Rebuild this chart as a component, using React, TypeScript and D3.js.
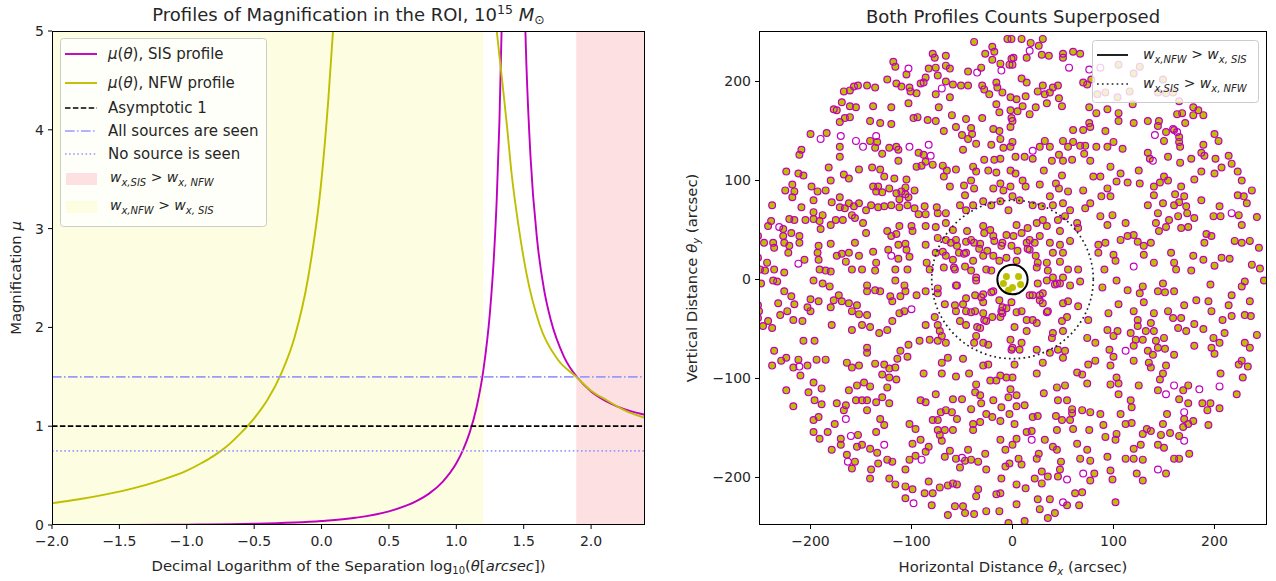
import React from 'react';
import * as d3 from 'd3';

type P = [number, number];

// ---------- Left panel data ----------
const xTicksL = [-2.0, -1.5, -1.0, -0.5, 0.0, 0.5, 1.0, 1.5, 2.0];
const yTicksL = [0, 1, 2, 3, 4, 5];
const sisLeft: P[] = [[-2, 0.0004], [-1.5, 0.0012], [-1, 0.004], [-0.5, 0.012], [0, 0.04], [0.25, 0.073], [0.5, 0.138], [0.7, 0.239], [0.8, 0.32], [0.9, 0.44], [1.0, 0.625], [1.05, 0.76], [1.1, 0.94], [1.15, 1.19], [1.2, 1.56], [1.25, 2.16], [1.28, 2.74], [1.3, 3.3], [1.32, 4.09], [1.335, 4.95], [1.345, 5.7]];
const sisRight: P[] = [[1.505, 5.34], [1.52, 4.66], [1.55, 3.74], [1.6, 2.88], [1.65, 2.39], [1.7, 2.08], [1.8, 1.7], [1.9, 1.49], [2.0, 1.35], [2.1, 1.26], [2.2, 1.196], [2.3, 1.15], [2.4, 1.116]];
const nfwLeft: P[] = [[-2, 0.22], [-1.8, 0.26], [-1.6, 0.31], [-1.4, 0.37], [-1.2, 0.45], [-1.0, 0.55], [-0.9, 0.62], [-0.8, 0.7], [-0.7, 0.8], [-0.6, 0.93], [-0.5, 1.08], [-0.4, 1.27], [-0.3, 1.53], [-0.2, 1.9], [-0.1, 2.5], [0.0, 3.5], [0.05, 4.3], [0.1, 5.3]];
const nfwRight: P[] = [[1.285, 5.2], [1.3, 5.0], [1.34, 4.5], [1.375, 4.05], [1.41, 3.56], [1.46, 3.04], [1.52, 2.55], [1.62, 2.02], [1.75, 1.68], [1.89, 1.5], [2.0, 1.36], [2.12, 1.26], [2.25, 1.16], [2.4, 1.085]];
const asymptoteLevel = 1;
const allSeenLevel = 1.5;
const noneSeenLevel = 0.75;
const nfwWinsBand: P = [-2, 1.2];
const sisWinsBand: P = [1.89, 2.4];

// ---------- Right panel data ----------
const scatterTicks = [-200, -100, 0, 100, 200];
const nfwCriticalRadius = 15;
const sisCriticalRadius = 80;
const bothPts: P[] = [
[-38,240],[-5,243],[-20,235],[-27,228],[-18,230],[-20,222],[-1,223],[-3,217],[-79,228],[-77,224],[-66,226],[-118,220],[-116,215],[-83,213],[-76,214],[-66,216],[-62,213],[-105,207],[-74,206],[-44,210],[-31,214],[-12,218],[-124,202],[-86,204],[-88,199],[-66,200],[-59,197],[-51,196],[-44,196],[-115,198],[-110,195],[-102,194],[-101,190],[-95,188],[-91,198],[-167,190],[-161,191],[-157,195],[-153,196],[-144,196],[-136,194],[-16,199],[-15,194],[-30,196],[-28,192],[-23,187],[-10,189],[-2,184],[-76,187],[-62,184],[-177,172],[-174,171],[-169,179],[-161,175],[-155,174],[-138,175],[-120,174],[-103,178],[-161,164],[-166,163],[-171,159],[-141,160],[-131,158],[-120,157],[-98,163],[-94,164],[-84,161],[-76,160],[-73,174],[-60,166],[-46,162],[-30,163],[-16,177],[-13,169],[-2,171],[-1,163],[-200,147],[-184,148],[-141,140],[-134,139],[-136,133],[-122,133],[-115,134],[-113,131],[-209,131],[-211,126],[-171,134],[-171,124],[-129,127],[-113,120],[-93,128],[-88,126],[-86,119],[-90,115],[-95,114],[-79,116],[-69,115],[-68,150],[-56,154],[-50,146],[-41,153],[-40,147],[-44,142],[-36,137],[-49,131],[-19,152],[-13,150],[-2,154],[-12,142],[-9,133],[-2,134],[-21,136],[-224,109],[-212,107],[-207,105],[-182,113],[-167,106],[-162,102],[-152,111],[-139,113],[-131,111],[-127,104],[-117,102],[-105,101],[-68,104],[-65,110],[-56,111],[-39,114],[-36,109],[-28,121],[-24,110],[-18,121],[-12,122],[-16,108],[-2,110],[-225,90],[-218,96],[-216,89],[-218,83],[-199,94],[-193,89],[-185,90],[-180,100],[-171,83],[-138,94],[-133,94],[-135,89],[-129,88],[-122,92],[-115,87],[-110,89],[-106,93],[-106,86],[-103,83],[-97,90],[-112,81],[-104,75],[-62,94],[-48,95],[-47,85],[-41,100],[-38,92],[-19,92],[-12,97],[-9,90],[-2,94],[-238,75],[-209,73],[-197,80],[-197,68],[-188,65],[-179,78],[-171,73],[-166,72],[-162,77],[-157,74],[-152,77],[-145,70],[-140,75],[-133,73],[-127,74],[-120,75],[-112,73],[-97,72],[-93,66],[-87,74],[-86,66],[-75,73],[-74,67],[-66,67],[-52,75],[-46,70],[-39,75],[-29,79],[-21,75],[-12,79],[-4,70],[-242,54],[-239,59],[-227,51],[-227,44],[-221,61],[-216,60],[-219,47],[-211,44],[-205,60],[-197,61],[-191,59],[-190,51],[-180,55],[-175,60],[-168,60],[-159,65],[-156,62],[-148,57],[-145,47],[-124,49],[-120,44],[-115,46],[-112,54],[-100,54],[-99,49],[-106,36],[-113,35],[-86,54],[-76,53],[-66,57],[-59,50],[-74,42],[-66,40],[-61,37],[-56,40],[-55,34],[-46,38],[-41,40],[-32,36],[-29,54],[-22,50],[-19,44],[-6,45],[-10,37],[-252,44],[-246,37],[-237,37],[-236,32],[-226,37],[-221,34],[-222,27],[-211,37],[-192,34],[-193,27],[-180,36],[-174,24],[-169,26],[-162,27],[-156,37],[-152,24],[-138,28],[-135,17],[-123,30],[-113,21],[-105,30],[-102,23],[-86,35],[-76,27],[-69,28],[-66,24],[-59,20],[-46,27],[-39,19],[-29,24],[-19,24],[-6,22],[-252,22],[-250,10],[-243,17],[-245,9],[-236,10],[-226,7],[-206,20],[-192,20],[-191,10],[-185,9],[-180,8],[-165,18],[-159,10],[-149,10],[-136,9],[-116,10],[-104,10],[-85,17],[-82,10],[-68,12],[-57,10],[-47,13],[-26,10],
[-1,243],[9,243],[18,239],[26,236],[30,243],[29,227],[36,226],[14,224],[1,224],[0,217],[50,228],[50,224],[60,230],[67,228],[105,217],[126,215],[120,208],[149,202],[144,189],[152,188],[159,189],[84,187],[92,189],[104,184],[116,190],[165,180],[74,197],[70,199],[78,202],[9,203],[14,199],[30,196],[40,194],[45,196],[25,190],[32,187],[37,189],[13,185],[4,182],[46,183],[49,175],[34,178],[23,174],[10,175],[17,167],[5,170],[0,160],[76,174],[83,168],[94,172],[105,168],[119,177],[76,158],[70,151],[60,151],[77,154],[92,150],[105,160],[120,158],[134,160],[145,160],[144,155],[152,149],[160,151],[165,144],[165,139],[166,134],[150,140],[163,167],[168,168],[179,166],[189,166],[171,158],[179,174],[184,171],[200,147],[204,140],[189,136],[187,128],[190,125],[201,122],[214,125],[217,117],[207,113],[223,109],[200,107],[227,100],[237,90],[229,84],[223,85],[232,77],[224,65],[242,63],[227,55],[206,64],[199,64],[205,74],[192,46],[197,44],[190,37],[220,39],[227,37],[244,32],[235,39],[207,22],[215,21],[245,11],[237,15],[200,14],[0,139],[3,124],[12,124],[20,122],[27,134],[32,140],[37,134],[39,120],[46,126],[50,120],[50,140],[55,134],[60,139],[67,135],[72,135],[83,134],[94,134],[100,139],[109,132],[71,127],[77,120],[59,121],[97,114],[107,107],[114,98],[125,110],[134,128],[136,122],[154,124],[166,118],[177,122],[187,109],[180,101],[167,94],[170,84],[161,86],[154,100],[150,104],[146,98],[140,94],[140,85],[149,77],[160,75],[165,78],[172,74],[173,67],[164,64],[155,60],[144,67],[142,57],[152,53],[145,49],[167,52],[174,53],[180,62],[187,80],[3,107],[10,100],[13,94],[27,96],[31,110],[43,97],[46,92],[49,105],[55,89],[70,90],[80,104],[87,104],[88,84],[94,92],[97,84],[103,99],[126,97],[134,75],[0,84],[7,80],[20,75],[29,74],[37,84],[40,75],[50,77],[57,70],[52,64],[45,60],[30,60],[24,57],[34,54],[47,49],[64,57],[65,52],[72,72],[77,77],[87,64],[94,55],[99,65],[112,57],[114,44],[107,40],[120,45],[124,38],[130,34],[137,37],[130,25],[140,17],[157,27],[160,17],[162,10],[177,9],[179,24],[189,20],[15,52],[9,47],[1,44],[4,55],[17,40],[22,37],[17,30],[27,44],[37,37],[47,35],[50,27],[57,39],[40,27],[25,17],[34,17],[47,18],[55,10],[65,10],[85,35],[92,37],[85,27],[100,25],[102,19],[91,10],
[-249,-4],[-237,-1],[-233,-2],[-226,-12],[-219,-17],[-216,-25],[-232,-24],[-252,-26],[-251,-32],[-252,-39],[-242,-42],[-247,-47],[-238,-49],[-230,-36],[-223,-32],[-217,-41],[-208,-42],[-200,-32],[-203,-28],[-200,-20],[-192,-22],[-197,-1],[-188,-4],[-181,-7],[-172,-16],[-177,-21],[-169,-22],[-162,-24],[-154,-26],[-159,-32],[-152,-35],[-144,-36],[-179,-46],[-159,-51],[-149,-46],[-141,-48],[-180,-28],[-144,-6],[-144,-12],[-136,-11],[-131,-12],[-132,-54],[-124,-51],[-119,-42],[-112,-34],[-107,-32],[-121,-17],[-119,-22],[-111,-17],[-106,-12],[-107,-6],[-116,-1],[-95,-16],[-86,-12],[-74,-9],[-74,-14],[-67,-25],[-77,-38],[-86,-46],[-74,-46],[-72,-52],[-70,-57],[-66,-64],[-74,-62],[-82,-61],[-92,-62],[-103,-66],[-111,-72],[-114,-80],[-104,-78],[-56,-6],[-57,-26],[-56,-32],[-49,-25],[-46,-32],[-52,-42],[-46,-46],[-37,-16],[-29,-15],[-29,-23],[-36,-1],[-19,-12],[-11,-32],[-6,-29],[-12,-38],[-1,-23],[-37,-32],[-29,-34],[-26,-42],[-32,-49],[-36,-57],[-38,-64],[-29,-64],[-24,-66],[-2,-61],[-1,-71],[-236,-72],[-238,-87],[-229,-82],[-224,-79],[-212,-81],[-217,-89],[-210,-97],[-203,-87],[-207,-62],[-196,-62],[-194,-81],[-185,-81],[-224,-112],[-217,-128],[-197,-104],[-189,-110],[-202,-114],[-196,-122],[-189,-126],[-192,-139],[-197,-142],[-176,-146],[-183,-154],[-197,-154],[-191,-161],[-179,-172],[-170,-161],[-170,-167],[-174,-125],[-165,-127],[-167,-132],[-162,-112],[-164,-84],[-159,-89],[-152,-87],[-144,-69],[-144,-74],[-136,-85],[-127,-86],[-122,-90],[-116,-89],[-115,-101],[-122,-99],[-129,-96],[-124,-109],[-129,-119],[-122,-125],[-135,-124],[-154,-107],[-147,-104],[-141,-108],[-155,-122],[-149,-122],[-144,-122],[-144,-132],[-131,-141],[-127,-147],[-135,-154],[-153,-157],[-154,-169],[-149,-167],[-141,-171],[-134,-175],[-164,-177],[-159,-191],[-156,-184],[-140,-192],[-133,-186],[-124,-182],[-119,-184],[-141,-201],[-122,-201],[-116,-207],[-106,-192],[-102,-182],[-96,-178],[-99,-166],[-91,-162],[-83,-169],[-86,-174],[-106,-209],[-99,-212],[-106,-221],[-87,-216],[-83,-204],[-79,-216],[-80,-228],[-72,-210],[-64,-208],[-59,-206],[-55,-207],[-64,-238],[-57,-229],[-49,-229],[-47,-236],[-38,-237],[-26,-234],[-13,-234],[-4,-246],[-34,-212],[-36,-219],[-16,-217],[-12,-216],[-88,-95],[-76,-116],[-91,-122],[-86,-124],[-59,-121],[-50,-121],[-56,-98],[-70,-95],[-70,-84],[-64,-79],[-49,-80],[-43,-95],[-36,-106],[-37,-114],[-32,-117],[-31,-125],[-29,-87],[-24,-86],[-22,-102],[-16,-102],[-12,-97],[-6,-99],[-2,-111],[-4,-119],[-19,-122],[-11,-129],[-26,-136],[-20,-139],[-12,-143],[-32,-144],[-39,-146],[-39,-152],[-41,-131],[-71,-134],[-66,-132],[-60,-134],[-55,-141],[-79,-142],[-74,-142],[-102,-146],[-96,-151],[-74,-152],[-67,-152],[-59,-152],[-72,-157],[-70,-163],[-62,-173],[-67,-179],[-56,-181],[-44,-172],[-47,-183],[-41,-182],[-34,-184],[-27,-176],[-52,-190],[-26,-192],[-12,-162],[-7,-172],[-7,-189],[-11,-201],
[25,-4],[42,-5],[47,-4],[57,-6],[67,-2],[89,-8],[103,-1],[114,-11],[126,-14],[129,-7],[144,-12],[151,-13],[160,-12],[149,-4],[196,-5],[227,-7],[230,-2],[249,-1],[235,-22],[217,-16],[214,-26],[197,-32],[182,-21],[194,-22],[230,-36],[236,-37],[208,-41],[217,-37],[170,-26],[167,-39],[172,-52],[164,-49],[159,-39],[180,-45],[189,-50],[199,-59],[205,-64],[210,-54],[242,-56],[230,-64],[235,-69],[180,-67],[197,-69],[200,-75],[227,-82],[224,-86],[233,-88],[206,-95],[228,-99],[222,-116],[174,-107],[169,-112],[165,-121],[174,-125],[188,-125],[196,-125],[193,-132],[205,-130],[170,-141],[174,-146],[179,-143],[169,-149],[165,-158],[194,-147],[175,-176],[165,-181],[160,-181],[152,-196],[144,-112],[146,-101],[149,-95],[152,-87],[139,-76],[135,-84],[137,-89],[134,-72],[144,-69],[151,-70],[160,-76],[142,-62],[150,-59],[140,-52],[137,-44],[154,-32],[140,-34],[132,-52],[124,-47],[117,-54],[122,-61],[120,-67],[120,-82],[129,-61],[124,-41],[120,-32],[130,-23],[105,-25],[95,-34],[94,-51],[100,-57],[104,-52],[96,-71],[100,-78],[97,-87],[103,-99],[105,-105],[97,-106],[105,-116],[117,-122],[118,-129],[125,-107],[107,-136],[118,-145],[112,-146],[103,-156],[102,-162],[92,-159],[90,-147],[87,-136],[77,-134],[69,-132],[60,-151],[59,-135],[57,-142],[49,-142],[43,-138],[44,-152],[32,-162],[40,-169],[44,-172],[48,-184],[47,-192],[45,-199],[77,-203],[81,-196],[67,-181],[64,-166],[74,-172],[77,-183],[94,-179],[97,-193],[99,-202],[112,-181],[120,-181],[129,-182],[120,-171],[127,-167],[123,-196],[129,-203],[133,-151],[137,-153],[129,-156],[144,-167],[150,-170],[147,-157],[156,-155],[149,-146],[153,-136],[62,-216],[69,-215],[66,-228],[54,-228],[37,-222],[25,-222],[27,-232],[35,-241],[42,-236],[12,-244],[4,-227],[4,-207],[13,-211],[22,-201],[29,-206],[29,-194],[35,-199],[102,-225],[-3,-186],[9,-187],[6,-181],[24,-181],[26,-176],[0,-167],[4,-161],[14,-154],[19,-153],[20,-139],[25,-138],[2,-146],[-3,-136],[4,-128],[12,-127],[4,-117],[0,-99],[2,-86],[24,-95],[31,-115],[44,-109],[52,-107],[45,-122],[54,-122],[59,-131],[76,-152],[64,-94],[69,-96],[74,-105],[75,-86],[82,-82],[74,-59],[75,-41],[82,-64],[65,-27],[49,-42],[54,-38],[50,-52],[40,-54],[39,-59],[45,-71],[52,-72],[50,-79],[37,-74],[30,-84],[24,-71],[14,-52],[9,-64],[7,-71],[0,-69],[14,-41],[9,-32],[20,-41],[27,-21],[30,-14],[20,-16],[35,-32],[50,-24],[55,-22],
[-21,9],[-13,19],[-36,2],[-55,-6],[-46,-19],[-31,-18],[-21,-13],[-13,-21],[-10,-28],[4,-33],[17,-16],[27,-16],[30,-24],[34,-33],[24,-44],[2,-48],[-10,-34],[-20,-38],[-28,-41],[-41,-33],[-35,-48],[4,19],[24,12],[35,9],[40,2],[34,-1],[44,-4],[50,2],[23,24],[15,31],[14,37],[5,29],[-1,34],[-11,34],[-18,39],[-25,29],[-33,31],[-38,37],[-28,47],[-45,49],[-53,27],[-48,26],[-58,12],[-41,9]
];
const sisOnlyPts: P[] = [[-103,213],[-35,209],[-11,211],[-70,193],[-190,142],[-170,145],[-155,140],[-148,134],[-135,145],[-102,134],[-83,136],[-81,125],[-231,53],[-120,24],[-212,16],[17,231],[56,214],[76,212],[87,214],[159,152],[163,149],[141,146],[20,130],[139,120],[217,67],[120,13],[-100,-30],[-211,-88],[-165,-141],[-160,-158],[-127,-167],[-163,-184],[-90,-182],[-98,-226],[-50,-180],[205,-108],[185,-111],[170,-134],[170,-163],[144,-192],[160,-107],[152,-116],[112,-72],[54,-202],[70,-196],[50,-225],[19,-162]];
const nfwOnlyPts: P[] = [[-6,3],[6,3],[8,-5],[0,-8],[-4,-11],[-9,-4]];

const L = { x0: 52, x1: 645, y0: 31, y1: 525 };
const R = { x0: 759, x1: 1267, y0: 31, y1: 525 };
const FONT = 'DejaVu Sans';
const MAG = '#bf00bf';
const OLI = '#bfbf00';
const LBLUE = '#9999ff';
const TXT = '#262626';
const TICK = 14;
const LAB = 14.8;
const LEG = 15;
const TITLE = 18;

function WRel({ x, y, a, b }: { x: number; y: number; a: string; b: string }) {
  return (
    <text x={x} y={y} fontFamily={FONT} fontSize={14} fill={TXT}>
      <tspan fontStyle="italic">w</tspan>
      <tspan dy={3.5} fontSize={10} fontStyle="italic">{'x,' + a}</tspan>
      <tspan dy={-3.5}> {'>'} </tspan>
      <tspan fontStyle="italic">w</tspan>
      <tspan dy={3.5} fontSize={10} fontStyle="italic">{'x, ' + b}</tspan>
    </text>
  );
}

export default function App() {
  const xL = d3.scaleLinear().domain([-2, 2.4]).range([L.x0, L.x1]);
  const yL = d3.scaleLinear().domain([0, 5]).range([L.y1, L.y0]);
  const xR = d3.scaleLinear().domain([-251, 252]).range([R.x0, R.x1]);
  const yR = d3.scaleLinear().domain([-248, 251]).range([R.y1, R.y0]);
  const lineL = d3.line<P>().x(d => xL(d[0])).y(d => yL(d[1])).curve(d3.curveMonotoneX);
  const fmt1 = d3.format('.1f');
  const fmt0 = d3.format('d');

  const hline = (v: number, stroke: string, dash: string, w = 1.5) => (
    <line x1={L.x0} x2={L.x1} y1={yL(v)} y2={yL(v)} stroke={stroke} strokeWidth={w} strokeDasharray={dash} />
  );

  const legL = [54, 83, 108, 131, 154, 179, 207];

  return (
    <svg width={1276} height={581} style={{ position: 'absolute', left: 0, top: 0, background: '#fff' }} fontFamily={FONT}>
      <defs>
        <clipPath id="clipL"><rect x={L.x0} y={L.y0} width={L.x1 - L.x0} height={L.y1 - L.y0} /></clipPath>
        <clipPath id="clipR"><rect x={R.x0} y={R.y0} width={R.x1 - R.x0} height={R.y1 - R.y0} /></clipPath>
      </defs>
      <rect x={0} y={0} width={1276} height={581} fill="#fff" />

      {/* ---------------- LEFT PANEL ---------------- */}
      <g clipPath="url(#clipL)">
        <rect x={xL(nfwWinsBand[0])} y={L.y0} width={xL(nfwWinsBand[1]) - xL(nfwWinsBand[0])} height={L.y1 - L.y0} fill="#fdfde1" />
        <rect x={xL(sisWinsBand[0])} y={L.y0} width={xL(sisWinsBand[1]) - xL(sisWinsBand[0])} height={L.y1 - L.y0} fill="#fde1e2" />
        <path d={lineL(sisLeft) || ''} fill="none" stroke={MAG} strokeWidth={1.9} />
        <path d={lineL(sisRight) || ''} fill="none" stroke={MAG} strokeWidth={1.9} />
        <path d={lineL(nfwLeft) || ''} fill="none" stroke={OLI} strokeWidth={1.9} />
        <path d={lineL(nfwRight) || ''} fill="none" stroke={OLI} strokeWidth={1.9} />
        {hline(asymptoteLevel, '#000', '5.5,2.4', 1.7)}
        {hline(allSeenLevel, LBLUE, '9.6,2.4,1.6,2.4', 1.7)}
        {hline(noneSeenLevel, LBLUE, '1.6,2.5', 1.7)}
      </g>
      <rect x={L.x0 + 0.5} y={L.y0 + 0.5} width={L.x1 - L.x0 - 1} height={L.y1 - L.y0 - 1} fill="none" stroke="#000" strokeWidth={1} />
      {xTicksL.map(t => (
        <g key={'xl' + t}>
          <line x1={xL(t)} x2={xL(t)} y1={L.y1} y2={L.y1 + 4} stroke="#000" />
          <text x={xL(t)} y={L.y1 + 21} textAnchor="middle" fontSize={TICK} fill={TXT}>{fmt1(t)}</text>
        </g>
      ))}
      {yTicksL.map(t => (
        <g key={'yl' + t}>
          <line x1={L.x0 - 4} x2={L.x0} y1={yL(t)} y2={yL(t)} stroke="#000" />
          <text x={L.x0 - 8} y={yL(t) + 5} textAnchor="end" fontSize={TICK} fill={TXT}>{fmt0(t)}</text>
        </g>
      ))}
      <text x={(L.x0 + L.x1) / 2} y={571} textAnchor="middle" fontSize={LAB} fill={TXT}>
        Decimal Logarithm of the Separation log<tspan dy={3} fontSize={10}>10</tspan><tspan dy={-3}>(</tspan><tspan fontStyle="italic">θ</tspan>[<tspan fontStyle="italic">arcsec</tspan>])
      </text>
      <text transform={`translate(21, ${(L.y0 + L.y1) / 2}) rotate(-90)`} textAnchor="middle" fontSize={LAB} fill={TXT}>
        Magnification <tspan fontStyle="italic">μ</tspan>
      </text>
      <text x={(L.x0 + L.x1) / 2} y={21} textAnchor="middle" fontSize={TITLE} fill={TXT}>
        Profiles of Magnification in the ROI, 10<tspan dy={-7} fontSize={12.5}>15</tspan><tspan dy={7}> </tspan><tspan fontStyle="italic">M</tspan><tspan dy={3} fontSize={12.5}>⊙</tspan>
      </text>

      {/* left legend */}
      <rect x={60.5} y={38.5} width={206} height={188} rx={3} fill="#fff" fillOpacity={0.8} stroke="#ccc" />
      <line x1={65} x2={97} y1={legL[0]} y2={legL[0]} stroke={MAG} strokeWidth={1.9} />
      <line x1={65} x2={97} y1={legL[1]} y2={legL[1]} stroke={OLI} strokeWidth={1.9} />
      <line x1={65} x2={97} y1={legL[2]} y2={legL[2]} stroke="#000" strokeWidth={1.7} strokeDasharray="5.5,2.4" />
      <line x1={65} x2={97} y1={legL[3]} y2={legL[3]} stroke={LBLUE} strokeWidth={1.7} strokeDasharray="9.6,2.4,1.6,2.4" />
      <line x1={65} x2={97} y1={legL[4]} y2={legL[4]} stroke={LBLUE} strokeWidth={1.7} strokeDasharray="1.6,2.5" />
      <rect x={66} y={legL[5] - 6} width={31} height={12} fill="#fde1e2" />
      <rect x={66} y={legL[6] - 6} width={31} height={12} fill="#fdfde1" />
      <text x={108} y={legL[0] + 5} fontSize={LEG} fill={TXT}><tspan fontStyle="italic">μ</tspan>(<tspan fontStyle="italic">θ</tspan>), SIS profile</text>
      <text x={108} y={legL[1] + 5} fontSize={LEG} fill={TXT}><tspan fontStyle="italic">μ</tspan>(<tspan fontStyle="italic">θ</tspan>), NFW profile</text>
      <text x={108} y={legL[2] + 5} fontSize={LEG} fill={TXT}>Asymptotic 1</text>
      <text x={108} y={legL[3] + 5} fontSize={LEG} fill={TXT}>All sources are seen</text>
      <text x={108} y={legL[4] + 5} fontSize={LEG} fill={TXT}>No source is seen</text>
      <WRel x={110} y={legL[5] + 3} a="SIS" b="NFW" />
      <WRel x={110} y={legL[6] + 3} a="NFW" b="SIS" />

      {/* ---------------- RIGHT PANEL ---------------- */}
      <g clipPath="url(#clipR)">
        {bothPts.concat(nfwOnlyPts).map((d, i) => (
          <circle key={'n' + i} cx={xR(d[0])} cy={yR(d[1])} r={3.5} fill={OLI} />
        ))}
        {bothPts.concat(sisOnlyPts).map((d, i) => (
          <circle key={'s' + i} cx={xR(d[0])} cy={yR(d[1])} r={3.4} fill="none" stroke={MAG} strokeWidth={1.2} />
        ))}
        <ellipse cx={xR(0)} cy={yR(0)} rx={xR(sisCriticalRadius) - xR(0)} ry={yR(0) - yR(sisCriticalRadius)} fill="none" stroke="#222" strokeWidth={1.7} strokeDasharray="1.7,3.2" />
        <ellipse cx={xR(0)} cy={yR(0)} rx={xR(nfwCriticalRadius) - xR(0)} ry={yR(0) - yR(nfwCriticalRadius)} fill="none" stroke="#000" strokeWidth={2} />
      </g>
      <rect x={R.x0 + 0.5} y={R.y0 + 0.5} width={R.x1 - R.x0 - 1} height={R.y1 - R.y0 - 1} fill="none" stroke="#000" strokeWidth={1} />
      {scatterTicks.map(t => (
        <g key={'xr' + t}>
          <line x1={xR(t)} x2={xR(t)} y1={R.y1} y2={R.y1 + 4} stroke="#000" />
          <text x={xR(t)} y={R.y1 + 21} textAnchor="middle" fontSize={TICK} fill={TXT}>{fmt0(t)}</text>
        </g>
      ))}
      {scatterTicks.map(t => (
        <g key={'yr' + t}>
          <line x1={R.x0 - 4} x2={R.x0} y1={yR(t)} y2={yR(t)} stroke="#000" />
          <text x={R.x0 - 8} y={yR(t) + 5} textAnchor="end" fontSize={TICK} fill={TXT}>{fmt0(t)}</text>
        </g>
      ))}
      <text x={(R.x0 + R.x1) / 2} y={572} textAnchor="middle" fontSize={LAB} fill={TXT}>
        Horizontal Distance <tspan fontStyle="italic">θ</tspan><tspan dy={3} fontSize={10} fontStyle="italic">x</tspan><tspan dy={-3}> (arcsec)</tspan>
      </text>
      <text transform={`translate(697, ${(R.y0 + R.y1) / 2}) rotate(-90)`} textAnchor="middle" fontSize={LAB} fill={TXT}>
        Vertical Distance <tspan fontStyle="italic">θ</tspan><tspan dy={3} fontSize={10} fontStyle="italic">y</tspan><tspan dy={-3}> (arcsec)</tspan>
      </text>
      <text x={(R.x0 + R.x1) / 2} y={23} textAnchor="middle" fontSize={TITLE} fill={TXT}>Both Profiles Counts Superposed</text>

      {/* right legend */}
      <rect x={1092.5} y={40.5} width={166} height={62} rx={3} fill="#fff" fillOpacity={0.8} stroke="#ccc" />
      <line x1={1097} x2={1128} y1={55} y2={55} stroke="#222" strokeWidth={2} />
      <line x1={1097} x2={1128} y1={84} y2={84} stroke="#222" strokeWidth={1.7} strokeDasharray="1.7,3.2" />
      <WRel x={1143} y={59} a="NFW" b="SIS" />
      <WRel x={1143} y={88} a="SIS" b="NFW" />
    </svg>
  );
}
